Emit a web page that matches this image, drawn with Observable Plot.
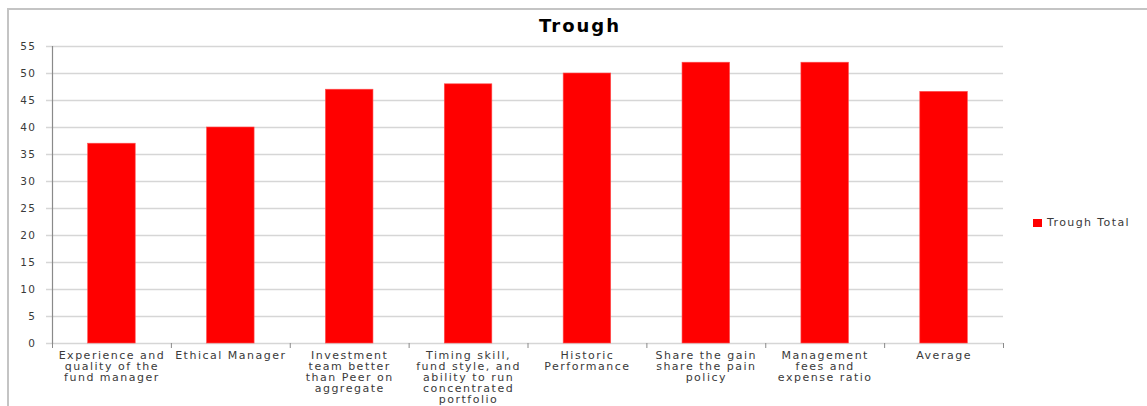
<!DOCTYPE html>
<html>
<head>
<meta charset="utf-8">
<script src="https://cdn.jsdelivr.net/npm/d3@7"></script>
<script src="https://cdn.jsdelivr.net/npm/@observablehq/plot@0.6"></script>
<style>
  html, body { margin: 0; padding: 0; background: #fff; }
  #wrap { position: relative; width: 1147px; height: 406px; overflow: hidden; background: #fff;
          font-family: "DejaVu Sans", sans-serif; }
  #box { position: absolute; left: 7px; top: 8px; width: 1160px; height: 420px;
         border-left: 2px solid #c4c4c4; border-top: 2px solid #c4c4c4; }
  #title { position: absolute; left: 0; width: 1160px; top: 15px; text-align: center;
           font-weight: bold; font-size: 18px; letter-spacing: 2px; color: #000; }
  #legend { position: absolute; left: 1033px; top: 216px; font-size: 11px; letter-spacing: 1.4px;
            color: #3a3a3a; display: flex; align-items: center; }
  #legend .sw { width: 9px; height: 8px; background: #ff0000; margin-right: 5px; }
  #chart { position: absolute; left: 0; top: 0; }
  #chart svg text { letter-spacing: 1.5px; }
</style>
</head>
<body>
<div id="wrap">
  <div id="box"></div>
  <div id="title">Trough</div>
  <div id="chart"></div>
  <div id="legend"><span class="sw"></span><span>Trough Total</span></div>
</div>
<script>
// Survey factors and their trough scores
const categories = [
  "Experience and quality of the fund manager",
  "Ethical Manager",
  "Investment team better than Peer on aggregate",
  "Timing skill, fund style, and ability to run concentrated portfolio",
  "Historic Performance",
  "Share the gain share the pain policy",
  "Management fees and expense ratio",
  "Average"
];
const tickLabels = [
  "Experience and\nquality of the\nfund manager",
  "Ethical Manager",
  "Investment\nteam better\nthan Peer on\naggregate",
  "Timing skill,\nfund style, and\nability to run\nconcentrated\nportfolio",
  "Historic\nPerformance",
  "Share the gain\nshare the pain\npolicy",
  "Management\nfees and\nexpense ratio",
  "Average"
];
const troughTotal = [37, 40, 47, 48, 50, 52, 52, 46.6];
const yTicks = [0, 5, 10, 15, 20, 25, 30, 35, 40, 45, 50, 55];

const data = categories.map((c, i) => ({category: c, value: troughTotal[i]}));

const width = 1147, height = 406;
const marginLeft = 52, marginRight = 144, marginTop = 46, marginBottom = 63;
const step = (width - marginLeft - marginRight) / categories.length;

const chart = Plot.plot({
  width, height, marginLeft, marginRight, marginTop, marginBottom,
  style: {fontFamily: "DejaVu Sans, sans-serif", fontSize: "10.5px", color: "#3a3a3a", background: "transparent"},
  x: {domain: categories, paddingInner: 0.6, paddingOuter: 0.3, round: false, label: null},
  y: {domain: [0, 55], label: null},
  marks: [
    Plot.ruleY(yTicks, {stroke: "#d6d6d6", strokeWidth: 1.5, insetLeft: -6}),
    Plot.barY(data, {x: "category", y: "value", fill: "#ff0000", stroke: "#ff5050", strokeWidth: 0.6}),
    Plot.frame({anchor: "left", stroke: "#8a8a8a", strokeWidth: 1.2}),
    Plot.ruleX(categories, {x: d => d, dx: -step / 2, y1: 0, y2: 0, insetBottom: -5, stroke: "#8a8a8a"}),
    Plot.ruleX([categories[categories.length - 1]], {x: d => d, dx: step / 2, y1: 0, y2: 0, insetBottom: -5, stroke: "#8a8a8a"}),
    Plot.axisY({ticks: yTicks, tickSize: 0, tickPadding: 16, label: null,
                tickFormat: d => String(d), fontSize: 10.5, fill: "#3a3a3a"}),
    Plot.axisX({tickSize: 0, tickPadding: 8, label: null, lineHeight: 1.0, fontSize: 11,
                tickFormat: d => tickLabels[categories.indexOf(d)], fill: "#3a3a3a"})
  ]
});
document.getElementById("chart").appendChild(chart);
</script>
</body>
</html>
